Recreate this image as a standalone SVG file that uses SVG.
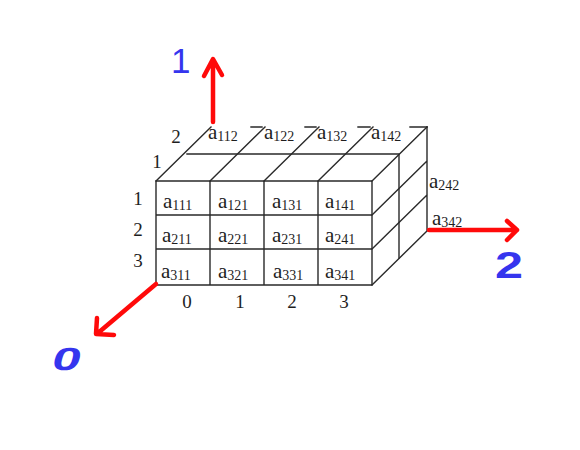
<svg xmlns="http://www.w3.org/2000/svg" width="580" height="450" viewBox="0 0 580 450">
<style>
.ln{stroke:#2a2a2a;stroke-width:1.4;fill:none;stroke-linecap:square}
.ax{stroke:#ff0a0a;stroke-width:4.5;fill:none;stroke-linecap:round;stroke-linejoin:round}
.a{font-family:"Liberation Serif",serif;font-size:21px;fill:#1e1e1e}
.s{font-size:14px}
.n{font-family:"Liberation Serif",serif;font-size:19px;fill:#1e1e1e;text-anchor:middle}
.b{font-family:"Liberation Sans",sans-serif;font-weight:bold;fill:#3535ee}
.b1{font-family:"Liberation Sans",sans-serif;font-weight:normal;fill:#3535ee}
</style>
<rect width="580" height="450" fill="#fff"/>
<g id="cube">
  <path class="ln" d="M156 181H372V285H156Z M156 215H372 M156 249H372 M210 181V285 M264 181V285 M318 181V285"/>
  <path class="ln" d="M156 181L211 127 M210 181L265 127 M264 181L319 127 M318 181L373 127 M372 181L427 127"/>
  <path class="ln" d="M187 154H399V258"/>
  <path class="ln" d="M251 127H262 M305 127H316 M358 127H370 M410 127H427"/>
  <path class="ln" d="M427 127V231 M372 215L427 161 M372 249L427 195 M372 285L427 231"/>
</g>
<g id="labels">
  <text class="a" x="208" y="139">a<tspan class="s" dy="2">112</tspan></text>
  <text class="a" x="264" y="139">a<tspan class="s" dy="2">122</tspan></text>
  <text class="a" x="317" y="139">a<tspan class="s" dy="2">132</tspan></text>
  <text class="a" x="371" y="139">a<tspan class="s" dy="2">142</tspan></text>
  <text class="a" x="163" y="208">a<tspan class="s" dy="2">111</tspan></text>
  <text class="a" x="218" y="208">a<tspan class="s" dy="2">121</tspan></text>
  <text class="a" x="272" y="208">a<tspan class="s" dy="2">131</tspan></text>
  <text class="a" x="325" y="208">a<tspan class="s" dy="2">141</tspan></text>
  <text class="a" x="162" y="242">a<tspan class="s" dy="2">211</tspan></text>
  <text class="a" x="218" y="242">a<tspan class="s" dy="2">221</tspan></text>
  <text class="a" x="272" y="242">a<tspan class="s" dy="2">231</tspan></text>
  <text class="a" x="325" y="242">a<tspan class="s" dy="2">241</tspan></text>
  <text class="a" x="161" y="278">a<tspan class="s" dy="2">311</tspan></text>
  <text class="a" x="218" y="278">a<tspan class="s" dy="2">321</tspan></text>
  <text class="a" x="273" y="278">a<tspan class="s" dy="2">331</tspan></text>
  <text class="a" x="325" y="278">a<tspan class="s" dy="2">341</tspan></text>
  <text class="a" x="429" y="188">a<tspan class="s" dy="2">242</tspan></text>
  <text class="a" x="432" y="225">a<tspan class="s" dy="2">342</tspan></text>
  <text class="n" x="138" y="205">1</text>
  <text class="n" x="138" y="236">2</text>
  <text class="n" x="138" y="267">3</text>
  <text class="n" x="176" y="143">2</text>
  <text class="n" x="157" y="168">1</text>
  <text class="n" x="187" y="308">0</text>
  <text class="n" x="240" y="308">1</text>
  <text class="n" x="292" y="308">2</text>
  <text class="n" x="344" y="308">3</text>
</g>
<g id="axes">
  <path class="ax" d="M213 122V60 M204 76L213 59L222 75"/>
  <path class="ax" d="M156 284L98 333 M97 318L96 334L114 335"/>
  <path class="ax" d="M429 230H517 M507 221L517 230L507 240"/>
</g>
<g id="axis-names">
  <text class="b1" x="171" y="73" font-size="35">1</text>
  <text class="b" font-size="32" transform="translate(50,370) skewX(-15) scale(1.6,1)">0</text>
  <text class="b" font-size="36" transform="translate(495,278) scale(1.4,1)">2</text>
</g>
</svg>
